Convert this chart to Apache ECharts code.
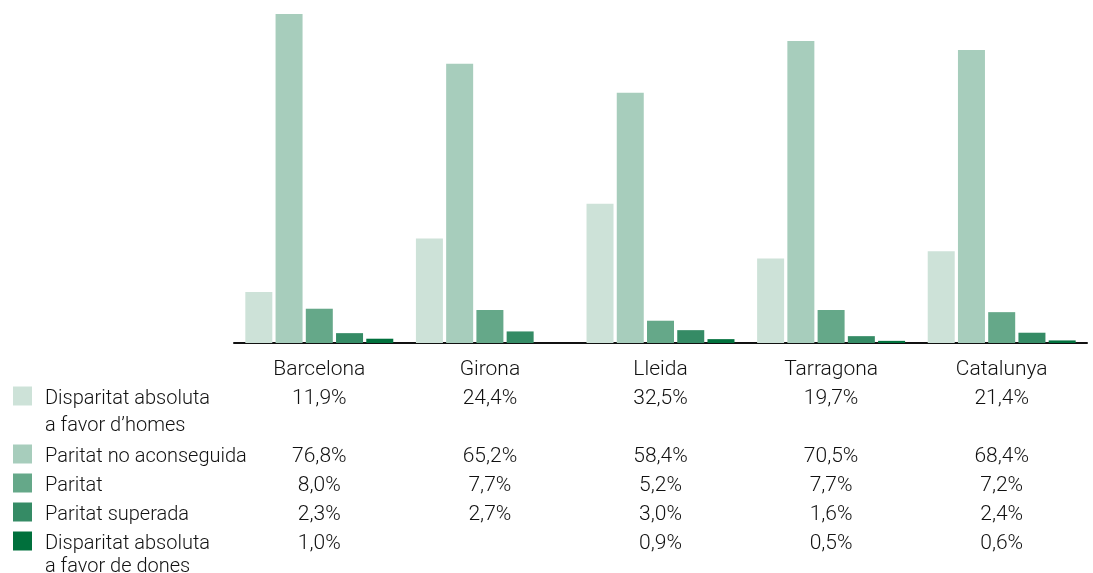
<!DOCTYPE html>
<html>
<head>
<meta charset="utf-8">
<script src="https://cdn.jsdelivr.net/npm/echarts@6/dist/echarts.min.js"></script>
<style>
html, body { margin: 0; padding: 0; background: #fff; }
#chart { width: 1093px; height: 573px; }
</style>
</head>
<body>
<div id="chart"></div>
<script>
var categories = ['Barcelona', 'Girona', 'Lleida', 'Tarragona', 'Catalunya'];
var seriesNames = [
    'Disparitat absoluta\na favor d\u2019homes',
    'Paritat no aconseguida',
    'Paritat',
    'Paritat superada',
    'Disparitat absoluta\na favor de dones'
];
var disparitatHomes = [11.9, 24.4, 32.5, 19.7, 21.4];
var noAconseguida = [76.8, 65.2, 58.4, 70.5, 68.4];
var paritat = [8.0, 7.7, 5.2, 7.7, 7.2];
var superada = [2.3, 2.7, 3.0, 1.6, 2.4];
var disparitatDones = [1.0, null, 0.9, 0.5, 0.6];

var colors = ['#cde2d8', '#a7cdbc', '#65a889', '#358b65', '#00703c'];
var allData = [disparitatHomes, noAconseguida, paritat, superada, disparitatDones];

var font = 'Roboto';
var textColor = '#111';

function fmt(v) {
    return v == null ? ' ' : v.toFixed(1).replace('.', ',') + '%';
}

var chart = echarts.init(document.getElementById('chart'));

// legend rows to the left of the table, lined up with the value rows
var labelTop = 343 + 13;
var rowCenters = [labelTop + 28 + 14.5, labelTop + 28 + 29 * 2 + 14.5, labelTop + 28 + 29 * 3 + 14.5,
                  labelTop + 28 + 29 * 4 + 14.5, labelTop + 28 + 29 * 5 + 14.5];
var legendLineHeights = [27, 26, 26, 26, 23];
var graphics = [];
seriesNames.forEach(function (name, i) {
    var lh = legendLineHeights[i];
    graphics.push({
        type: 'rect',
        left: 13,
        top: rowCenters[i] - 12,
        shape: { width: 19, height: 19 },
        style: { fill: colors[i] }
    });
    graphics.push({
        type: 'text',
        left: 45,
        top: rowCenters[i] - lh / 2,
        style: {
            text: name,
            font: '300 20px ' + font,
            fill: textColor,
            lineHeight: lh
        }
    });
});

var option = {
    animation: false,
    grid: { left: 234, right: 6, top: 14, bottom: 230 },
    xAxis: {
        type: 'category',
        data: categories,
        axisLine: { lineStyle: { color: '#111', width: 2 } },
        axisTick: { show: false },
        axisLabel: {
            margin: 13,
            interval: 0,
            formatter: function (val, idx) {
                var lines = ['{h|' + val + '}'];
                lines.push('{v|' + fmt(allData[0][idx]) + '}');
                lines.push('{v| }');
                for (var s = 1; s < allData.length; s++) {
                    lines.push('{v|' + fmt(allData[s][idx]) + '}');
                }
                return lines.join('\n');
            },
            rich: {
                h: { fontFamily: font, fontWeight: 300, fontSize: 21, color: textColor, lineHeight: 28, align: 'center' },
                v: { fontFamily: font, fontWeight: 300, fontSize: 21, color: textColor, lineHeight: 29, align: 'center' }
            }
        }
    },
    yAxis: {
        type: 'value',
        min: 0,
        max: 76.8,
        show: false,
        splitLine: { show: false }
    },
    series: allData.map(function (d, i) {
        return {
            name: seriesNames[i],
            type: 'bar',
            data: d,
            barWidth: 27,
            barGap: '12%',
            itemStyle: { color: colors[i] }
        };
    }),
    graphic: graphics
};
chart.setOption(option);
</script>
</body>
</html>
